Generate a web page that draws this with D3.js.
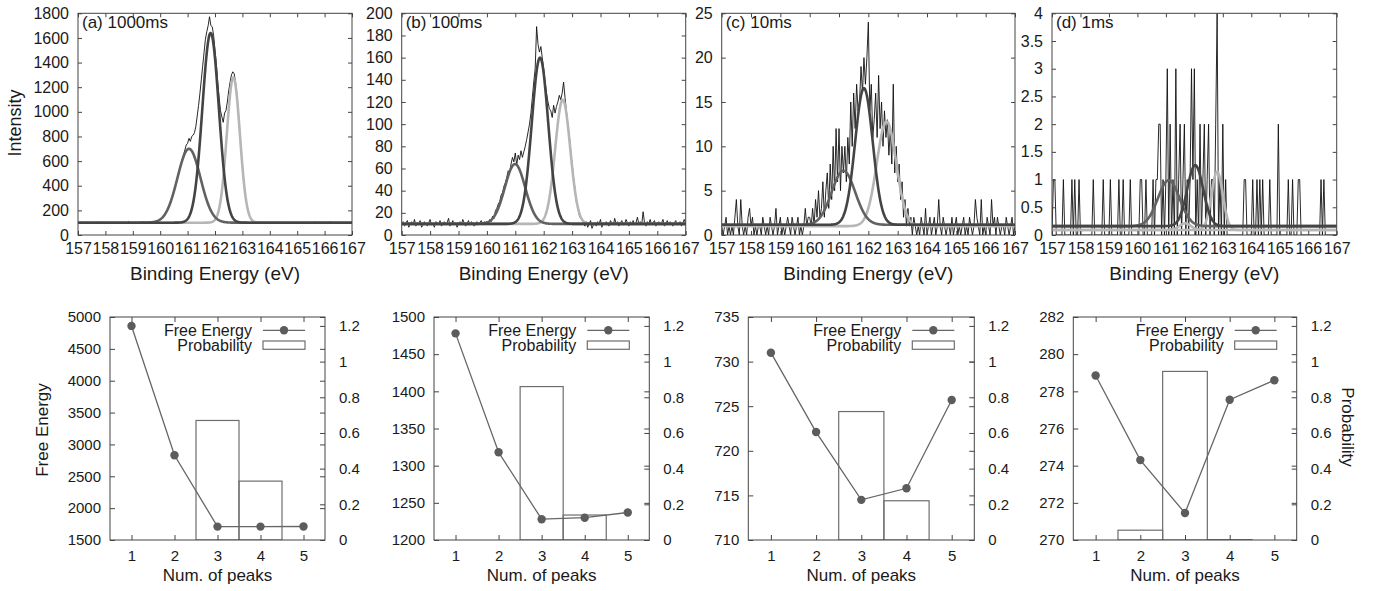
<!DOCTYPE html>
<html><head><meta charset="utf-8">
<script src="https://cdn.jsdelivr.net/npm/d3@7"></script>
<style>
body{margin:0;background:#fff}
svg{display:block}
text{font-family:"Liberation Sans",Arial,Helvetica,sans-serif;fill:#1a1a1a}
</style>
</head><body>
<svg id="c" width="1383" height="591"></svg>
<script>
// ---------------- DATA ----------------
const energyStart = 157, energyStep = 0.05;          // spectra sampled every 0.05 eV, 157..167
const energyTicks = [157,158,159,160,161,162,163,164,165,166,167];
const panelLabels = ["(a) 1000ms","(b) 100ms","(c) 10ms","(d) 1ms"];
const intensityMax = [1800, 200, 25, 4];
const intensityTicksA = [0,200,400,600,800,1000,1200,1400,1600,1800];
const intensityTicksB = [0,20,40,60,80,100,120,140,160,180,200];
const intensityTicksC = [0,5,10,15,20,25];
const intensityTicksD = [0,0.5,1,1.5,2,2.5,3,3.5,4];

const specA = [
101,97,104,99,102,96,100,105,98,101,103,97,100,99,106,101,95,102,100,98,
104,99,101,97,103,100,96,102,99,105,98,101,100,97,103,99,102,112,98,100,
101,96,104,99,100,103,97,101,99,102,100,98,104,101,103,106,107,111,115,119,
128,133,149,158,180,196,225,248,285,313,360,392,442,478,530,571,612,650,690,730,
745,785,760,800,810,830,880,965,1050,1150,1260,1370,1480,1590,1650,1700,1772,1700,1690,1620,
1500,1390,1240,1120,1010,960,915,990,1010,1080,1170,1240,1300,1325,1310,1240,1130,1000,850,705,
562,440,335,262,200,166,136,122,110,107,101,103,99,
100,97,102,99,104,101,98,100,103,96,101,99,105,100,98,102,97,101,100,104,
99,97,103,100,101,98,102,99,96,103,100,101,97,104,99,102,100,98,101,96,
109,100,98,103,97,101,105,99,100,102,98,111,97,100,103,99,101,98,104,100,
97,102,99,101,100,98,103,100];
const specB = [
9,12,8,11,13,7,10,12,9,14,8,11,10,13,7,9,12,10,8,11,
14,9,10,7,12,11,9,13,8,10,12,9,11,15,8,10,13,9,11,7,
10,12,9,14,11,8,10,13,9,12,11,8,10,12,9,11,13,10,12,11,
12,10,14,12,17,15,22,24,28,30,36,38,44,47,52,58,56,64,70,66,
74,63,72,68,76,70,75,80,86,93,100,110,124,138,150,188,172,165,170,160,
150,138,128,120,114,112,106,117,110,116,120,126,122,128,138,124,112,100,90,76,
64,52,42,30,26,18,15,14,11,8,12,7,10,
13,6,9,11,8,12,10,14,7,11,9,12,10,8,13,11,9,15,10,12,
8,11,13,9,10,14,11,8,12,10,13,9,11,16,10,12,9,21,11,8,
12,10,14,9,11,13,8,10,12,9,11,14,8,10,13,9,12,10,8,11,
13,9,10,12,8,11,14,10];
const specC = [
1,0,1,2,0,1,0,1,0,2,4,1,0,4,1,0,1,0,2,3,
1,2,0,1,0,1,1,0,2,1,0,1,0,2,1,0,1,3,0,1,
2,0,1,0,1,2,1,0,2,1,0,1,2,0,1,0,1,3,1,2,
2,1,3,1,4,2,5,2,3,6,2,5,7,3,8,4,10,5,12,6,
12,5,10,7,10,6,11,8,15,10,16,12,17,14,15,19,16,20,17,20,
24,14,17,11,13,16,11,18,12,15,10,14,11,13,9,12,8,17,7,10,
6,8,4,6,2,4,1,3,1,2,0,2,1,
0,1,0,2,1,0,3,0,1,2,0,1,2,0,1,4,1,0,2,1,
0,1,1,0,2,0,1,2,0,1,0,1,2,0,1,0,2,1,0,1,
4,2,1,0,4,0,1,0,2,1,0,4,1,2,0,2,1,0,1,1,
0,2,1,0,1,2,0,1];
const specD = [
0,1,1,0,0,0,0,0,1,0, 0,0,0,0,1,0,1,0,0,1, 0,0,0,0,0,0,0,0,0,1, 0,0,0,0,0,0,1,0,0,0,
0,1,0,0,0,0,0,1,0,0, 1,0,0,0,0,1,0,0,0,0, 0,0,1,1,0,0,1,0,0,0, 0,1,0,1,1,2,2,0,1,0,
1,3,0,2,0,1,0,3,0,1, 2,0,1,2,0,1,0,1,3,1, 3,0,1,0,2,0,1,2,0,1, 2,0,1,1,0,2,4,0,1,0,
2,0,1,0,0,0,0,0,0,0, 0,0,0,0,0,1,1,0,0,0, 0,1,0,0,1,0,1,0,1,0, 0,0,0,1,0,0,0,0,0,2,
0,0,0,0,0,0,1,0,0,1, 0,0,0,1,1,0,0,0,0,0, 0,0,0,0,0,0,0,0,0,1, 0,1,0,0,0,0,0,0,0,0,0];

// fitted peaks (baseline, centre, height above baseline, gaussian width, shade)
const fitBaseA = [100,100,100];
const fitCenterA = [161.05,161.84,162.67];
const fitHeightA = [600,1540,1180];
const fitWidthA = [0.42,0.30,0.24];
const fitShadeA = ["mid","dark","light"];
const fitBaseB = [10,10,10];
const fitCenterB = [160.99,161.87,162.67];
const fitHeightB = [54,150,112];
const fitWidthB = [0.36,0.29,0.265];
const fitShadeB = ["mid","dark","light"];
const fitBaseC = [1.15,1.15,1.0];
const fitCenterC = [161.15,161.85,162.62];
const fitHeightC = [6.1,15.4,11.8];
const fitWidthC = [0.40,0.30,0.33];
const fitShadeC = ["mid","dark","light"];
const fitBaseD = [0.16,0.16,0.09,0.09];
const fitCenterD = [161.1,162.03,162.8,161.68];
const fitHeightD = [0.83,1.1,1.05,0.12];
const fitWidthD = [0.38,0.28,0.2,0.2];
const fitShadeD = ["mid","dark","light","light"];

// bottom row
const numPeaks = [1,2,3,4,5];
const freeEnergyA = [4860,2830,1710,1710,1712];
const freeEnergyB = [1478,1318,1228,1230,1237];
const freeEnergyC = [731.0,722.1,714.5,715.8,725.7];
const freeEnergyD = [278.85,274.3,271.45,277.55,278.6];
const probabilityA = [0,0,0.67,0.33,0];
const probabilityB = [0,0,0.86,0.14,0];
const probabilityC = [0,0,0.72,0.22,0];
const probabilityD = [0,0.055,0.945,0.002,0];
const feDomainA = [1500,5000], feTicksA = [1500,2000,2500,3000,3500,4000,4500,5000];
const feDomainB = [1200,1500], feTicksB = [1200,1250,1300,1350,1400,1450,1500];
const feDomainC = [710,735],   feTicksC = [710,715,720,725,730,735];
const feDomainD = [270,282],   feTicksD = [270,272,274,276,278,280,282];
const probDomain = [0,1.25];
const probTicks = [0,0.2,0.4,0.6,0.8,1,1.2];

// ---------------- DRAWING ----------------
const FONT = '"Liberation Sans",Arial,Helvetica,sans-serif';
const svg = d3.select("#c");
const defs = svg.append("defs");
const shadeColor = {mid:"#626262", dark:"#444444", light:"#b6b6b6"};
const shadeOrder = {light:0, mid:1, dark:2};

function styleAxis(g, size){
  g.attr("font-family", FONT).attr("font-size", size).attr("color","#333");
  g.select(".domain").remove();
  g.selectAll(".tick line").attr("stroke","#444").attr("stroke-width",1);
  g.selectAll(".tick text").attr("fill","#1a1a1a");
}

const topFrames = [{x0:78,x1:352},{x0:401.7,x1:685.7},{x0:721.7,x1:1015},{x0:1052,x1:1336.7}];
const topY0 = 13.3, topY1 = 235;
const spectra = [specA,specB,specC,specD];
const intensityTicks = [intensityTicksA,intensityTicksB,intensityTicksC,intensityTicksD];
const fits = [
  {base:fitBaseA,center:fitCenterA,height:fitHeightA,width:fitWidthA,shade:fitShadeA},
  {base:fitBaseB,center:fitCenterB,height:fitHeightB,width:fitWidthB,shade:fitShadeB},
  {base:fitBaseC,center:fitCenterC,height:fitHeightC,width:fitWidthC,shade:fitShadeC},
  {base:fitBaseD,center:fitCenterD,height:fitHeightD,width:fitWidthD,shade:fitShadeD}];

topFrames.forEach((f,i)=>{
  const x = d3.scaleLinear().domain([157,167]).range([f.x0,f.x1]);
  const y = d3.scaleLinear().domain([0,intensityMax[i]]).range([topY1,topY0]);
  const clipId = "clipT"+i;
  defs.append("clipPath").attr("id",clipId).append("rect")
    .attr("x",f.x0).attr("y",topY0).attr("width",f.x1-f.x0).attr("height",topY1-topY0);
  const plot = svg.append("g").attr("clip-path",`url(#${clipId})`);
  const pts = spectra[i].map((v,k)=>[energyStart+k*energyStep, v]);
  plot.append("path").datum(pts)
    .attr("d", d3.line().x(d=>x(d[0])).y(d=>y(d[1])))
    .attr("fill","none").attr("stroke","#111").attr("stroke-width",0.9);
  // fitted curves
  const F = fits[i];
  const idx = F.center.map((c,k)=>k).sort((a,b)=>shadeOrder[F.shade[a]]-shadeOrder[F.shade[b]]);
  const grid = d3.range(157, 167.0001, 0.01);
  idx.forEach(k=>{
    const curve = grid.map(e=>[e, F.base[k] + F.height[k]*Math.exp(-((e-F.center[k])**2)/(2*F.width[k]**2))]);
    plot.append("path").datum(curve)
      .attr("d", d3.line().x(d=>x(d[0])).y(d=>y(d[1])))
      .attr("fill","none").attr("stroke",shadeColor[F.shade[k]]).attr("stroke-width",2.6)
      .attr("stroke-linejoin","round");
  });
  // frame
  svg.append("rect").attr("x",f.x0).attr("y",topY0).attr("width",f.x1-f.x0).attr("height",topY1-topY0)
    .attr("fill","none").attr("stroke","#444").attr("stroke-width",1);
  // axes
  svg.append("g").attr("transform",`translate(0,${topY1})`)
    .call(d3.axisBottom(x).tickValues(energyTicks).tickFormat(d=>String(d)).tickSize(-4).tickPadding(8))
    .call(g=>styleAxis(g,16));
  svg.append("g").attr("transform",`translate(0,${topY0})`)
    .call(d3.axisTop(x).tickValues(energyTicks).tickFormat("").tickSize(-4))
    .call(g=>styleAxis(g,16));
  svg.append("g").attr("transform",`translate(${f.x0},0)`)
    .call(d3.axisLeft(y).tickValues(intensityTicks[i]).tickFormat(d=>String(d)).tickSize(-4).tickPadding(9))
    .call(g=>styleAxis(g,16));
  svg.append("g").attr("transform",`translate(${f.x1},0)`)
    .call(d3.axisRight(y).tickValues(intensityTicks[i]).tickFormat("").tickSize(-4))
    .call(g=>styleAxis(g,16));
  svg.append("text").attr("x",f.x0+4).attr("y",topY0+15).attr("font-size",17).text(panelLabels[i]);
  svg.append("text").attr("x",(f.x0+f.x1)/2).attr("y",280).attr("text-anchor","middle")
    .attr("font-size",19).text("Binding Energy (eV)");
});
svg.append("text").attr("transform","translate(15,123) rotate(-90)").attr("text-anchor","middle")
  .attr("dy","0.35em").attr("font-size",18).text("Intensity");

// bottom row
const botFrames = [{x0:110,x1:325},{x0:434,x1:649.3},{x0:748.3,x1:974.3},{x0:1073.3,x1:1296.7}];
const botY0 = 317, botY1 = 540;
const freeEnergy = [freeEnergyA,freeEnergyB,freeEnergyC,freeEnergyD];
const probability = [probabilityA,probabilityB,probabilityC,probabilityD];
const feDomains = [feDomainA,feDomainB,feDomainC,feDomainD];
const feTicks = [feTicksA,feTicksB,feTicksC,feTicksD];

botFrames.forEach((f,i)=>{
  const x = d3.scaleLinear().domain([0.5,5.5]).range([f.x0,f.x1]);
  const y = d3.scaleLinear().domain(feDomains[i]).range([botY1,botY0]);
  const y2 = d3.scaleLinear().domain(probDomain).range([botY1,botY0]);
  const clipId = "clipB"+i;
  defs.append("clipPath").attr("id",clipId).append("rect")
    .attr("x",f.x0).attr("y",botY0).attr("width",f.x1-f.x0).attr("height",botY1-botY0);
  const plot = svg.append("g").attr("clip-path",`url(#${clipId})`);
  // bars
  plot.selectAll("rect.bar").data(numPeaks.map((n,k)=>({n,p:probability[i][k]})).filter(d=>d.p>0))
    .enter().append("rect").attr("class","bar")
    .attr("x",d=>x(d.n-0.5)).attr("width",d=>x(d.n+0.5)-x(d.n-0.5))
    .attr("y",d=>y2(d.p)).attr("height",d=>y2(0)-y2(d.p))
    .attr("fill","none").attr("stroke","#6e6e6e").attr("stroke-width",1.2);
  // free energy line
  const fe = numPeaks.map((n,k)=>[n,freeEnergy[i][k]]);
  plot.append("path").datum(fe).attr("d",d3.line().x(d=>x(d[0])).y(d=>y(d[1])))
    .attr("fill","none").attr("stroke","#666").attr("stroke-width",1.3);
  plot.selectAll("circle.fe").data(fe).enter().append("circle").attr("class","fe")
    .attr("cx",d=>x(d[0])).attr("cy",d=>y(d[1])).attr("r",4.2).attr("fill","#5c5c5c");
  // frame
  svg.append("rect").attr("x",f.x0).attr("y",botY0).attr("width",f.x1-f.x0).attr("height",botY1-botY0)
    .attr("fill","none").attr("stroke","#444").attr("stroke-width",1);
  // axes
  svg.append("g").attr("transform",`translate(0,${botY1})`)
    .call(d3.axisBottom(x).tickValues(numPeaks).tickFormat(d=>String(d)).tickSize(-5).tickPadding(10))
    .call(g=>styleAxis(g,15));
  svg.append("g").attr("transform",`translate(0,${botY0})`)
    .call(d3.axisTop(x).tickValues(numPeaks).tickFormat("").tickSize(-5))
    .call(g=>styleAxis(g,15));
  svg.append("g").attr("transform",`translate(${f.x0},0)`)
    .call(d3.axisLeft(y).tickValues(feTicks[i]).tickFormat(d=>String(d)).tickSize(-5).tickPadding(9))
    .call(g=>styleAxis(g,15));
  svg.append("g").attr("transform",`translate(${f.x1},0)`)
    .call(d3.axisRight(y).tickValues(feTicks[i]).tickFormat("").tickSize(-5))
    .call(g=>styleAxis(g,15));
  svg.append("g").attr("transform",`translate(${f.x1},0)`)
    .call(d3.axisRight(y2).tickValues(probTicks).tickFormat(d=>String(d)).tickSize(-5).tickPadding(14))
    .call(g=>styleAxis(g,15));
  // legend
  const lx = f.x1-73, ls0 = f.x1-62, ls1 = f.x1-20;
  svg.append("text").attr("x",lx).attr("y",botY0+13.3).attr("dy","0.35em").attr("text-anchor","end")
    .attr("font-size",16).text("Free Energy");
  svg.append("line").attr("x1",ls0).attr("x2",ls1).attr("y1",botY0+13.3).attr("y2",botY0+13.3)
    .attr("stroke","#666").attr("stroke-width",1.3);
  svg.append("circle").attr("cx",(ls0+ls1)/2).attr("cy",botY0+13.3).attr("r",4.2).attr("fill","#5c5c5c");
  svg.append("text").attr("x",lx).attr("y",botY0+28.3).attr("dy","0.35em").attr("text-anchor","end")
    .attr("font-size",16).text("Probability");
  svg.append("rect").attr("x",ls0).attr("y",botY0+24).attr("width",ls1-ls0).attr("height",8.3)
    .attr("fill","none").attr("stroke","#6e6e6e").attr("stroke-width",1.2);
  svg.append("text").attr("x",(f.x0+f.x1)/2).attr("y",581).attr("text-anchor","middle")
    .attr("font-size",17).text("Num. of peaks");
});
svg.append("text").attr("transform","translate(42,430) rotate(-90)").attr("text-anchor","middle")
  .attr("dy","0.35em").attr("font-size",17).text("Free Energy");
svg.append("text").attr("transform","translate(1348,427) rotate(90)").attr("text-anchor","middle")
  .attr("dy","0.35em").attr("font-size",17).text("Probability");
</script>
</body></html>
